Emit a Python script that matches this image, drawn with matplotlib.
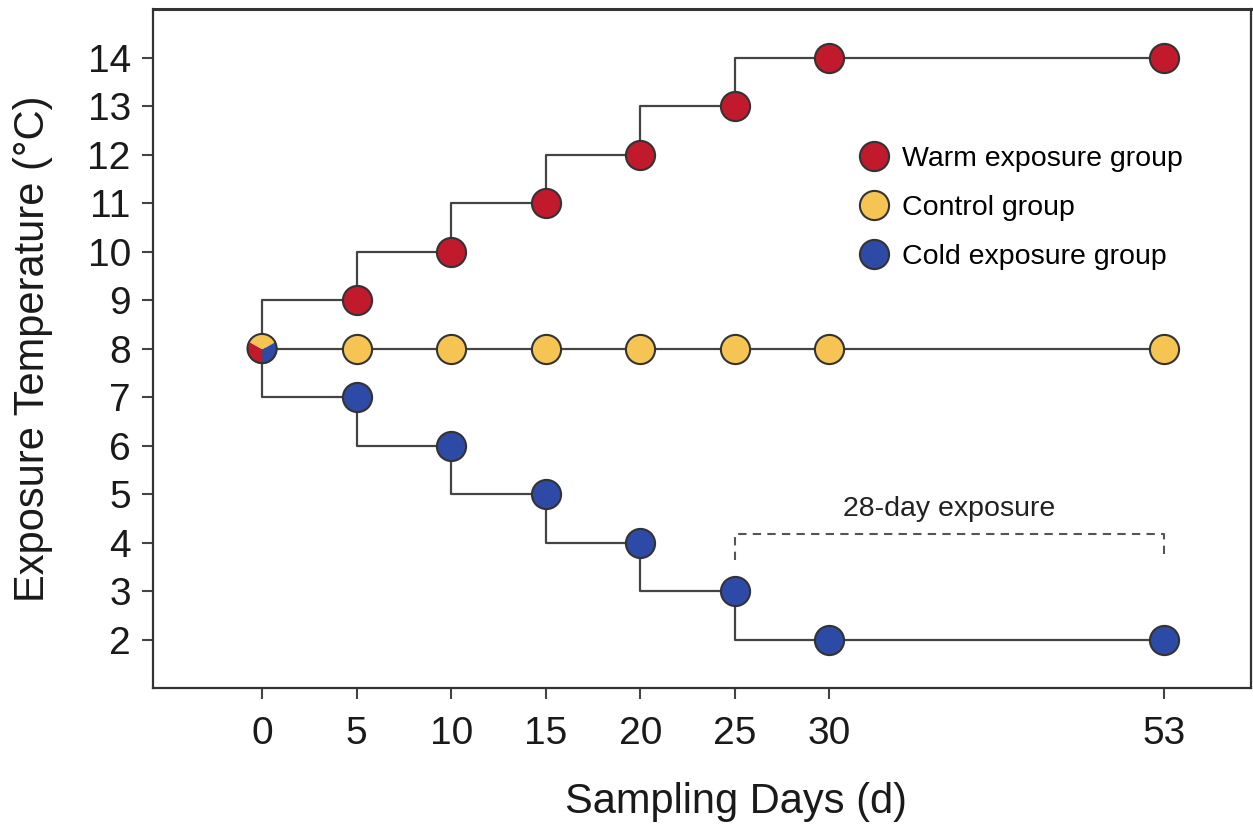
import numpy as np
import matplotlib
matplotlib.use("Agg")
import matplotlib.pyplot as plt
from matplotlib.lines import Line2D

plt.rcParams['font.family'] = ['Liberation Sans', 'DejaVu Sans']

# === data ===
days = [0, 5, 10, 15, 20, 25, 30, 53]
warm = [8, 9, 10, 11, 12, 13, 14, 14]
control = [8, 8, 8, 8, 8, 8, 8, 8]
cold = [8, 7, 6, 5, 4, 3, 2, 2]
labels = ["Warm exposure group", "Control group", "Cold exposure group"]
colors = ["#c01a2c", "#f5c453", "#2d4aa6"]
exposure_span = (25, 53)


# x axis is linear up to day 30, compressed after that
def xpos(d):
    d = np.asarray(d, dtype=float)
    return np.where(d <= 30, d, 30 + (d - 30) * 0.77)


x = xpos(days)

fig = plt.figure(figsize=(12.53, 8.24), dpi=100)
ax = fig.add_axes([0.1221, 0.165, 0.8763, 0.824])

line_kw = dict(color="#444444", lw=1.6, drawstyle="steps-pre", zorder=1)
for series in (warm, control, cold):
    ax.plot(x, series, **line_kw)

msize = 21
for series, c in zip((warm, control, cold), colors):
    ax.scatter(x[1:], series[1:], s=msize ** 2, color=c, edgecolor="#333333",
               linewidth=1.5, zorder=3)

# three-colour marker for the shared start point
def wedge(a0, a1, n=40):
    t = np.radians(np.linspace(a0, a1, n))
    return np.vstack([[0, 0], np.column_stack([np.cos(t), np.sin(t)]), [0, 0]])

for (a0, a1), c in zip([(150, 270), (30, 150), (270, 390)], colors):
    ax.scatter(x[0], warm[0], s=msize ** 2, marker=wedge(a0, a1), color=c,
               linewidth=0, zorder=4)
ax.scatter(x[0], warm[0], s=msize ** 2, facecolor="none", edgecolor="#333333",
           linewidth=1.5, zorder=5)

# 28-day exposure bracket
bx = xpos(exposure_span)
ax.plot([bx[0], bx[0], bx[1], bx[1]], [3.65, 4.18, 4.18, 3.65], color="#555555",
        lw=1.5, ls=(0, (4, 3)), zorder=2)
ax.text(bx.mean(), 4.42, "28-day exposure", ha="center", va="bottom",
        fontsize=20.5, color="#222222")

handles = [Line2D([], [], ls="none", marker="o", markersize=msize, markerfacecolor=c,
                  markeredgecolor="#333333", markeredgewidth=1.5) for c in colors]
ax.legend(handles, labels, loc="upper left", bbox_to_anchor=(0.633, 0.815),
          frameon=False, fontsize=20.5, handletextpad=0.5, labelspacing=0.8,
          borderaxespad=0, handlelength=1.0)

ax.set_xlim(-5.77, 52.3)
ax.set_ylim(1, 15)
ax.set_xticks(x)
ax.set_xticklabels([str(d) for d in days])
ax.set_yticks(range(2, 15))
ax.tick_params(axis="both", labelsize=28, width=1.5, length=8, color="#444444",
               labelcolor="#1a1a1a")
ax.tick_params(axis="x", pad=12)
ax.tick_params(axis="y", pad=8)
for s in ax.spines.values():
    s.set_linewidth(1.6)
    s.set_color("#333333")
ax.spines["top"].set_linewidth(2.2)

ax.set_xlabel("Sampling Days (d)", fontsize=30, color="#1a1a1a")
ax.set_ylabel("Exposure Temperature (°C)", fontsize=30, color="#1a1a1a")
ax.xaxis.set_label_coords(0.531, -0.138)
ax.xaxis.label.set_va("top")
ax.yaxis.set_label_coords(-0.091, 0.5)

fig.savefig("out.png", dpi=100)
